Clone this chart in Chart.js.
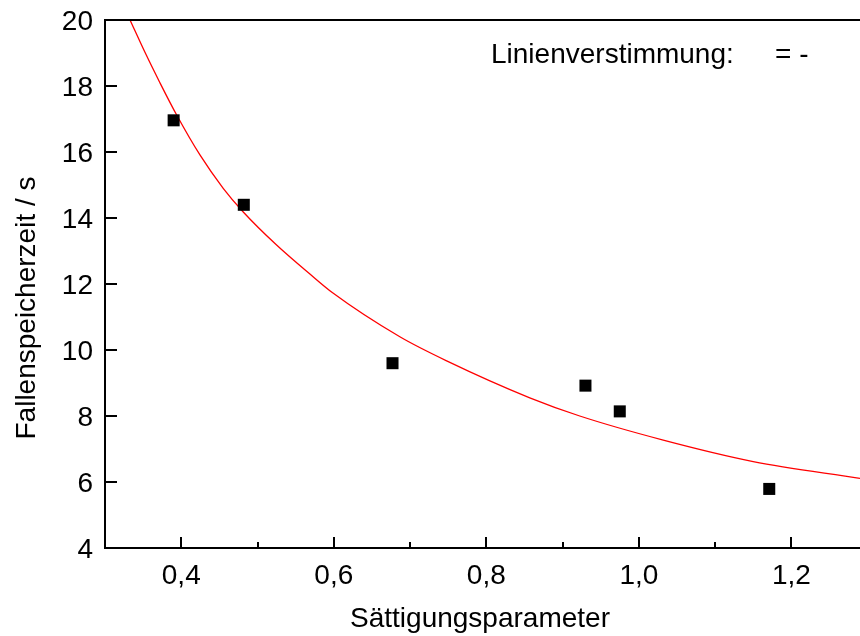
<!DOCTYPE html>
<html>
<head>
<meta charset="utf-8">
<script src="https://cdn.jsdelivr.net/npm/chart.js@4/dist/chart.umd.min.js"></script>
<style>
  html, body { margin: 0; padding: 0; background: #fff; overflow: hidden; }
  #wrap { width: 860px; height: 636px; position: relative; }
</style>
</head>
<body>
<div id="wrap"><canvas id="c" width="860" height="636"></canvas></div>
<script>
// Measured data (Sättigungsparameter vs. Fallenspeicherzeit)
const satX = [0.390, 0.482, 0.677, 0.930, 0.975, 1.171];
const timeY = [16.96, 14.40, 9.60, 8.92, 8.14, 5.79];

// Fit curve
const fitX = [0.3328, 0.3524, 0.372, 0.394, 0.4245, 0.455, 0.481, 0.525, 0.5687, 0.598, 0.6866, 0.748, 0.857, 0.9225, 1.032, 1.150, 1.29];
const fitY = [20.0, 19.02, 18.10, 17.12, 15.91, 14.90, 14.19, 13.18, 12.30, 11.74, 10.40, 9.67, 8.55, 8.00, 7.27, 6.62, 6.11];

const xMajorTicks = [0.4, 0.6, 0.8, 1.0, 1.2];
const xMinorTicks = [0.5, 0.7, 0.9, 1.1];
const yMajorTicks = [4, 6, 8, 10, 12, 14, 16, 18, 20];

const xTitle = 'Sättigungsparameter';
const yTitle = 'Fallenspeicherzeit / s';
const legendLabel = 'Linienverstimmung:';
const legendValue = '= -';

const FONT = '"Liberation Sans", Arial, sans-serif';

const axesPlugin = {
  id: 'axesPlugin',
  afterDraw(chart) {
    const ctx = chart.ctx;
    const a = chart.chartArea;
    const xs = chart.scales.x, ys = chart.scales.y;
    ctx.save();
    ctx.strokeStyle = '#000';
    ctx.lineWidth = 2;
    ctx.beginPath();
    // frame: left, bottom, top
    ctx.moveTo(a.left, a.top - 1); ctx.lineTo(a.left, a.bottom + 1);
    ctx.moveTo(a.left - 1, a.bottom); ctx.lineTo(a.right + 2, a.bottom);
    ctx.moveTo(a.left - 1, a.top); ctx.lineTo(a.right + 2, a.top);
    ctx.stroke();
    ctx.beginPath();
    xMajorTicks.forEach(v => {
      const px = Math.round(xs.getPixelForValue(v));
      ctx.moveTo(px, a.bottom); ctx.lineTo(px, a.bottom - 11);
    });
    xMinorTicks.forEach(v => {
      const px = Math.round(xs.getPixelForValue(v));
      ctx.moveTo(px, a.bottom); ctx.lineTo(px, a.bottom - 6);
    });
    yMajorTicks.forEach(v => {
      const py = Math.round(ys.getPixelForValue(v));
      ctx.moveTo(a.left, py); ctx.lineTo(a.left + 12, py);
    });
    ctx.stroke();

    ctx.fillStyle = '#000';
    ctx.font = '28px ' + FONT;
    ctx.textBaseline = 'alphabetic';
    // x tick labels
    ctx.textAlign = 'center';
    xMajorTicks.forEach(v => {
      ctx.fillText(v.toFixed(1).replace('.', ','), xs.getPixelForValue(v), a.bottom + 36);
    });
    // y tick labels
    ctx.textAlign = 'right';
    yMajorTicks.forEach(v => {
      ctx.fillText(String(v), a.left - 12, ys.getPixelForValue(v) + 10);
    });
    // x title
    ctx.textAlign = 'center';
    ctx.fillText(xTitle, 480, 627);
    // y title
    ctx.save();
    ctx.translate(35, 308);
    ctx.rotate(-Math.PI / 2);
    ctx.fillText(yTitle, 0, 0);
    ctx.restore();
    // legend text
    ctx.textAlign = 'left';
    ctx.fillText(legendLabel, 491, 63);
    ctx.fillText(legendValue, 775, 63);
    ctx.restore();
  }
};

new Chart(document.getElementById('c'), {
  type: 'scatter',
  data: {
    datasets: [
      {
        label: 'Fit',
        type: 'line',
        data: fitX.map((x, i) => ({ x: x, y: fitY[i] })),
        borderColor: '#ff0000',
        borderWidth: 1.3,
        pointRadius: 0,
        fill: false,
        cubicInterpolationMode: 'monotone',
        order: 2
      },
      {
        label: 'Messwerte',
        data: satX.map((x, i) => ({ x: x, y: timeY[i] })),
        backgroundColor: '#000',
        borderColor: '#000',
        borderWidth: 0,
        pointStyle: 'rect',
        pointRadius: 8.5,
        order: 1
      }
    ]
  },
  options: {
    responsive: false,
    animation: false,
    devicePixelRatio: 1,
    layout: { autoPadding: false, padding: { top: 20, right: 0, left: 0, bottom: 0 } },
    plugins: { legend: { display: false }, tooltip: { enabled: false } },
    scales: {
      x: {
        type: 'linear',
        min: 0.3,
        max: 1.29,
        grid: { display: false, drawTicks: false },
        border: { display: false },
        afterBuildTicks: s => { s.ticks = xMajorTicks.map(v => ({ value: v })); },
        afterFit: s => { s.height = 88; },
        ticks: { display: false }
      },
      y: {
        type: 'linear',
        min: 4,
        max: 20,
        grid: { display: false, drawTicks: false },
        border: { display: false },
        afterBuildTicks: s => { s.ticks = yMajorTicks.map(v => ({ value: v })); },
        afterFit: s => { s.width = 105; },
        ticks: { display: false }
      }
    }
  },
  plugins: [axesPlugin]
});
</script>
</body>
</html>
